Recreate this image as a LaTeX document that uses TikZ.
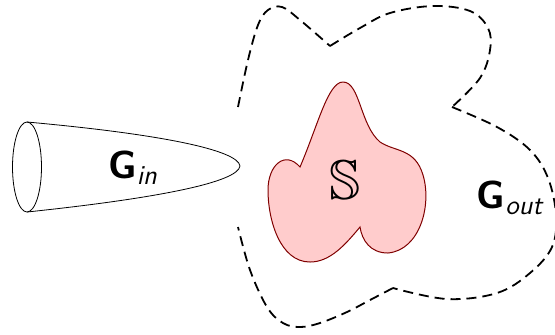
\documentclass[tikz,border=0pt]{standalone}
\usepackage{amsmath,amssymb}
\usetikzlibrary{arrows.meta}

\newcommand{\gname}[1]{\sffamily\textbf{G}$_{\text{\sffamily\itshape #1}}$}

\begin{document}
\begin{tikzpicture}[x=0.5pt, y=-0.5pt,
    every node/.style={font=\fontsize{19.5}{22}\selectfont},
    boundary/.style={line width=0.9pt, dash pattern=on 5pt off 3pt},
    region/.style={draw=red!50!black, fill=red!20, line width=0.5pt}]
  \useasboundingbox (0,0) rectangle (555,334);

  % input cone
  \draw (27,167) ellipse [x radius=14.5, y radius=45];
  \draw (27,122) .. controls (160,134) and (238,150) .. (240,166)
                 .. controls (238,182) and (160,198) .. (27,212);
  \node (gin) at (133,168) {\gname{in}};

  % outer boundary
  \draw[boundary] plot[smooth, tension=0.6] coordinates
      {(238,107) (248,60) (258,25) (268,10) (282,7) (300,20) (330,46)}
    plot[smooth, tension=0.6] coordinates
      {(330,46) (360,28) (390,13) (433,6) (470,11) (488,28) (490,50) (480,78) (452,107)}
    plot[smooth, tension=0.6] coordinates
      {(452,107) (497,127) (530,150) (548,178) (556,215) (552,247) (530,273) (497,293) (447,299) (393,288)}
    plot[smooth, tension=0.6] coordinates
      {(393,288) (370,300) (347,312) (320,323) (300,327) (283,323) (267,307) (250,270) (238,227)};

  % set S
  \draw[region] (300,167) .. controls (318,125) and (328,82) .. (343,82)
    .. controls (360,82) and (360,125) .. (380,142)
    .. controls (395,152) and (415,148) .. (423,175)
    .. controls (432,205) and (420,250) .. (388,253)
    .. controls (370,253) and (362,240) .. (360,227)
    .. controls (345,245) and (330,262) .. (310,262)
    .. controls (280,262) and (268,220) .. (268,190)
    .. controls (268,165) and (285,150) .. (300,167) -- cycle;
  \node (s) at (345,180) {\fontsize{28}{30}\selectfont$\mathbb{S}$};

  \node (gout) at (510,198) {\gname{out}};
\end{tikzpicture}
\end{document}
